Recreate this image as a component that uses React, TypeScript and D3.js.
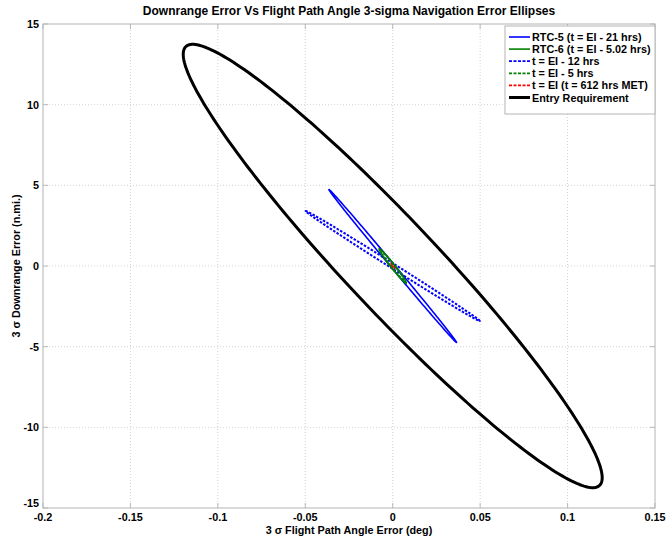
import React from "react";
import * as d3 from "d3";

// Ellipse parameters: x half-extent (deg), y half-extent (n.mi.), correlation
const ellipseNames = [
  "RTC-5 (t = EI - 21 hrs)",
  "RTC-6 (t = EI - 5.02 hrs)",
  "t = EI - 12 hrs",
  "t = EI - 5 hrs",
  "t = EI (t = 612 hrs MET)",
  "Entry Requirement",
];
const ellipseSx = [0.0365, 0.0078, 0.0498, 0.0068, 0.0012, 0.1198];
const ellipseSy = [4.74, 1.07, 3.41, 0.9, 0.15, 13.74];
const ellipseRho = [-0.9992, -0.985, -0.9987, -0.98, -0.95, -0.955];
const ellipseColors = ["#0000ff", "#008000", "#0000ff", "#008000", "#ff0000", "#000000"];
const ellipseDashed = [false, false, true, true, true, false];
const ellipseWidths = [1.6, 1.6, 2, 2, 2, 3];
const drawOrder = [4, 0, 2, 1, 3, 5];

const xTicks = [-0.2, -0.15, -0.1, -0.05, 0, 0.05, 0.1, 0.15];
const yTicks = [-15, -10, -5, 0, 5, 10, 15];

const W = 668, H = 540;
const L = 43, R = 655, T = 24, B = 508;
const FONT = "'Liberation Sans', Arial, Helvetica, sans-serif";
const FS = 10.8;

export default function App() {
  const x = d3.scaleLinear().domain([-0.2, 0.15]).range([L, R]);
  const y = d3.scaleLinear().domain([-15, 15]).range([B, T]);
  const line = d3.line<[number, number]>().x(d => x(d[0])).y(d => y(d[1])).curve(d3.curveLinearClosed);

  const ellipsePts = (i: number): [number, number][] => {
    const n = 240;
    const k = Math.sqrt(1 - ellipseRho[i] * ellipseRho[i]);
    return d3.range(n).map(j => {
      const t = (j / n) * Math.PI * 2;
      return [ellipseSx[i] * Math.cos(t), ellipseSy[i] * (ellipseRho[i] * Math.cos(t) + k * Math.sin(t))] as [number, number];
    });
  };

  const fmt = (v: number) => (v === 0 ? "0" : String(v));

  const legX = 505, legY = 26, legW = 150, legH = 88;
  const rowH = 12.1;

  return (
    <svg width={W} height={H} style={{ position: "absolute", left: 0, top: 0, background: "#fff" }} fontFamily={FONT}>
      <rect x={0} y={0} width={W} height={H} fill="#fff" />
      <defs>
        <clipPath id="plot">
          <rect x={L} y={T} width={R - L} height={B - T} />
        </clipPath>
      </defs>
      {/* grid */}
      {xTicks.slice(1, -1).map((t, i) => (
        <line key={"gx" + i} x1={x(t)} x2={x(t)} y1={T} y2={B} stroke="#c8c8c8" strokeWidth={0.8} strokeDasharray="1,2" />
      ))}
      {yTicks.slice(1, -1).map((t, i) => (
        <line key={"gy" + i} x1={L} x2={R} y1={y(t)} y2={y(t)} stroke="#c8c8c8" strokeWidth={0.8} strokeDasharray="1,2" />
      ))}
      {/* ticks */}
      {xTicks.map((t, i) => (
        <g key={"tx" + i}>
          <line x1={x(t)} x2={x(t)} y1={B} y2={B - 5} stroke="#aaa" strokeWidth={0.8} />
          <line x1={x(t)} x2={x(t)} y1={T} y2={T + 5} stroke="#aaa" strokeWidth={0.8} />
          <text x={x(t)} y={B + 13} textAnchor="middle" fontSize={FS} fontWeight="bold" fill="#000">{fmt(t)}</text>
        </g>
      ))}
      {yTicks.map((t, i) => (
        <g key={"ty" + i}>
          <line x1={L} x2={L + 5} y1={y(t)} y2={y(t)} stroke="#aaa" strokeWidth={0.8} />
          <line x1={R} x2={R - 5} y1={y(t)} y2={y(t)} stroke="#aaa" strokeWidth={0.8} />
          <text x={L - 4} y={y(t) + (t === -15 ? -1 : 4)} textAnchor="end" fontSize={FS} fontWeight="bold" fill="#000">{t}</text>
        </g>
      ))}
      <rect x={L} y={T} width={R - L} height={B - T} fill="none" stroke="#b4b4b4" strokeWidth={1} />
      {/* ellipses */}
      <g clipPath="url(#plot)">
        {drawOrder.map(i => (
          <path key={"e" + i} d={line(ellipsePts(i)) || ""} fill="none" stroke={ellipseColors[i]}
            strokeWidth={ellipseWidths[i]} strokeDasharray={ellipseDashed[i] ? "2.5,1.5" : undefined} strokeLinejoin="round" />
        ))}
      </g>
      {/* legend */}
      <rect x={legX} y={legY} width={legW} height={legH} fill="#fff" stroke="#b4b4b4" strokeWidth={1} />
      {ellipseNames.map((name, i) => {
        const cy = legY + 11 + i * rowH;
        return (
          <g key={"l" + i}>
            <line x1={legX + 4} x2={legX + 25} y1={cy} y2={cy} stroke={ellipseColors[i]}
              strokeWidth={i === 5 ? 3 : ellipseDashed[i] ? 1.8 : 1.6} strokeDasharray={ellipseDashed[i] ? "3,1.5" : undefined} />
            <text x={legX + 27} y={cy + 4} fontSize={FS} fontWeight="bold" fill="#000">{name}</text>
          </g>
        );
      })}
      {/* titles */}
      <text x={(L + R) / 2} y={15} textAnchor="middle" fontSize={12} fontWeight="bold" fill="#000">
        Downrange Error Vs Flight Path Angle 3-sigma Navigation Error Ellipses
      </text>
      <text x={(L + R) / 2} y={534} textAnchor="middle" fontSize={FS} fontWeight="bold" fill="#000">
        3 σ Flight Path Angle Error (deg)
      </text>
      <text transform={`translate(20,${(T + B) / 2}) rotate(-90)`} textAnchor="middle" fontSize={FS} fontWeight="bold" fill="#000">
        3 σ Downrange Error (n.mi.)
      </text>
    </svg>
  );
}
